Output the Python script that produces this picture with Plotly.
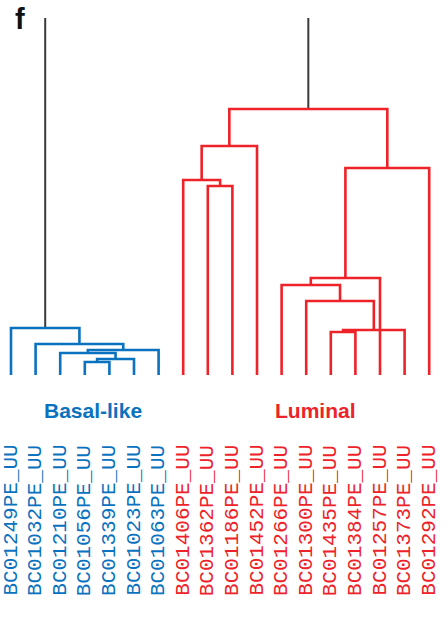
import plotly.graph_objects as go

# ---- data ----
leaf_labels = [
    "BC01249PE_UU", "BC01032PE_UU", "BC01210PE_UU", "BC01056PE_UU",
    "BC01339PE_UU", "BC01023PE_UU", "BC01063PE_UU",
    "BC01406PE_UU", "BC01362PE_UU", "BC01186PE_UU", "BC01452PE_UU",
    "BC01266PE_UU", "BC01300PE_UU", "BC01435PE_UU", "BC01384PE_UU",
    "BC01257PE_UU", "BC01373PE_UU", "BC01292PE_UU",
]
leaf_group = ["Basal-like"] * 7 + ["Luminal"] * 11
group_names = ["Basal-like", "Luminal"]

# linkage: (left child, right child, height); new nodes numbered from 18
merge_left = [3, 18, 2, 20, 1, 0, 8, 7, 25, 13, 27, 12, 11, 30, 31, 26, 23]
merge_right = [4, 5, 19, 6, 21, 22, 9, 24, 10, 14, 16, 28, 29, 15, 17, 32, 33]
merge_height = [13, 16, 22, 25, 31, 47, 189, 195, 229, 43, 45, 74, 90, 97, 207, 266, 420]

colors = {"Basal-like": "#0A72BE", "Luminal": "#EE2229", "mixed": "#3A3A3A"}

# ---- compute dendrogram geometry ----
n = len(leaf_labels)
node_x = {i: float(i) for i in range(n)}
node_h = {i: 0.0 for i in range(n)}
node_groups = {i: {leaf_group[i]} for i in range(n)}

seg = {k: ([], []) for k in colors}
for k, (a, b, h) in enumerate(zip(merge_left, merge_right, merge_height)):
    nid = n + k
    node_x[nid] = (node_x[a] + node_x[b]) / 2
    node_h[nid] = h
    node_groups[nid] = node_groups[a] | node_groups[b]
    g = node_groups[nid]
    key = next(iter(g)) if len(g) == 1 else "mixed"
    xs, ys = seg[key]
    xs += [node_x[a], node_x[a], node_x[b], node_x[b], None]
    ys += [node_h[a], h, h, node_h[b], None]

fig = go.Figure()
for key in ["mixed", "Basal-like", "Luminal"]:
    xs, ys = seg[key]
    fig.add_trace(go.Scatter(
        x=xs, y=ys, mode="lines",
        line=dict(color=colors[key], width=2.6 if key != "mixed" else 2.0),
        hoverinfo="skip", showlegend=False,
    ))

# leaf labels
for i, lab in enumerate(leaf_labels):
    fig.add_annotation(
        x=i, y=-68, xref="x", yref="y", text=lab, showarrow=False,
        textangle=-90, xanchor="center", yanchor="top",
        font=dict(family="Liberation Mono, Courier New, monospace", size=21,
                  color=colors[leaf_group[i]]),
    )

# group labels
group_x = [3.33, 12.36]
for name, gx in zip(group_names, group_x):
    fig.add_annotation(
        x=gx, y=-35, xref="x", yref="y", text=f"<b>{name}</b>", showarrow=False,
        xanchor="center", yanchor="middle",
        font=dict(family="Liberation Sans, Arial, sans-serif", size=21,
                  color=colors[name]),
    )

# panel letter
fig.add_annotation(
    x=0.029, y=1.0, xref="paper", yref="paper", text="<b>f</b>", showarrow=False,
    xanchor="left", yanchor="top", yshift=17,
    font=dict(family="Liberation Sans, Arial, sans-serif", size=29, color="#111111"),
)

fig.update_xaxes(visible=False, range=[-0.447, 17.764], fixedrange=True)
fig.update_yaxes(visible=False, range=[-250, 357], fixedrange=True)
fig.update_layout(
    width=448, height=625,
    margin=dict(l=0, r=0, t=18, b=0),
    paper_bgcolor="white", plot_bgcolor="white",
    showlegend=False,
)
fig.write_html("out.html")
